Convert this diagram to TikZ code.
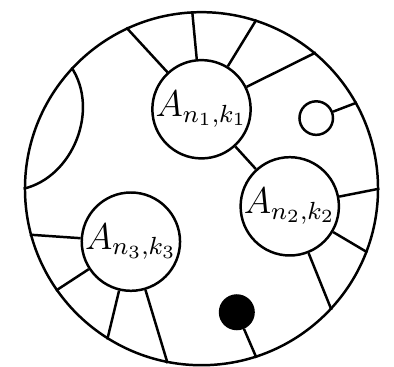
\documentclass[tikz,border=0pt]{standalone}
\begin{document}
\begin{tikzpicture}[thick,
    blob/.style={circle, draw, minimum size=1.07cm, inner sep=0pt, font=\large},
    bead/.style={circle, draw, minimum size=0.38cm, inner sep=0pt}]

  % frame
  \useasboundingbox (-2.283,-2.009) rectangle (2.181,2.138);

  % outer disc
  \node[circle, draw, minimum size=4cm, inner sep=0pt] (disc) at (0,0) {};

  % the three blocks
  \node[blob] (A1) at (0,0.9) {$A_{n_1,k_1}$};
  \node[blob] (A2) at (1,-0.2) {$A_{n_2,k_2}$};
  \node[blob] (A3) at (-0.8,-0.6) {$A_{n_3,k_3}$};

  % open and filled beads
  \node[bead] (open) at (1.3,0.8) {};
  \node[bead, fill] (full) at (0.4,-1.4) {};

  % legs to the rim
  \foreach \a in {115,93,72,50}
    \draw (A1) -- (disc.\a);
  \foreach \a in {0,339,317}
    \draw (A2) -- (disc.\a);
  \foreach \a in {259,238,215,195}
    \draw (A3) -- (disc.\a);
  \draw (open) -- (disc.29);
  \draw (full) -- (disc.288);

  % link between blocks
  \draw (A1) -- (A2);

  % chord on the left
  \draw (disc.137) to[bend left=55] (disc.180);

\end{tikzpicture}
\end{document}
